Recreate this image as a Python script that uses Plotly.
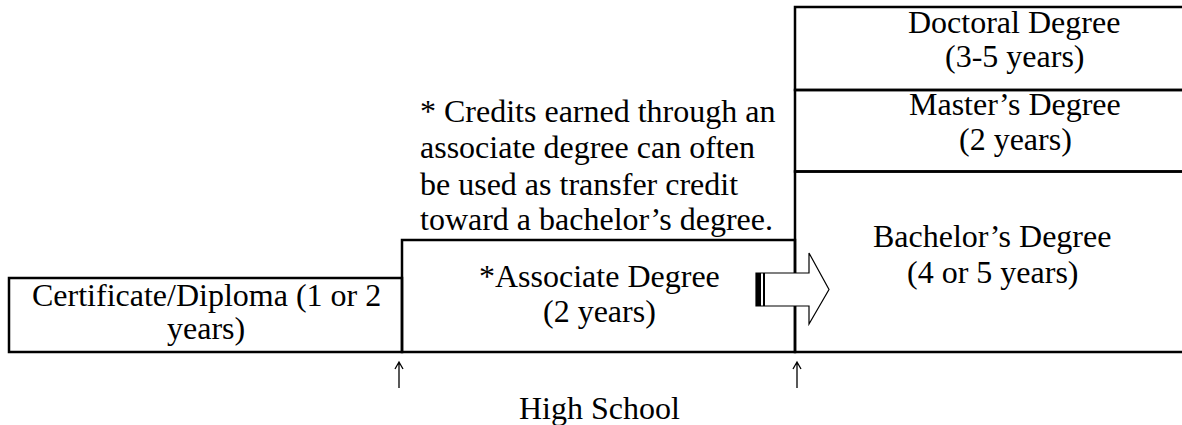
import plotly.graph_objects as go

# ---- content ----
box_labels = [
    ["Certificate/Diploma (1 or 2", "years)"],
    ["*Associate Degree", "(2 years)"],
    ["Bachelor\u2019s Degree", "(4 or 5 years)"],
    ["Master\u2019s Degree", "(2 years)"],
    ["Doctoral Degree", "(3-5 years)"],
]
note_lines = [
    "* Credits earned through an",
    "associate degree can often",
    "be used as transfer credit",
    "toward a bachelor\u2019s degree.",
]
bottom_label = "High School"

# ---- layout geometry (pixel space of the 1182x425 canvas) ----
W, H = 1182, 425
box_x0 = [9, 402, 795, 795, 795]
box_x1 = [402, 795, 1190, 1190, 1190]
box_y0 = [278, 240, 171.5, 90, 7]
box_y1 = [352, 352, 352, 171.5, 90]
label_cx = [206, 599, 992, 1015, 1014]
label_base = [[306, 339], [286.5, 321.5], [247, 283], [115, 150], [33, 67]]
note_x = 418
note_base = [121.5, 158, 195, 230]
bottom_cx, bottom_base = 599, 419
up_x = [399, 797]
up_top, up_bottom = 362, 388

FONT = "Liberation Serif, Times New Roman, serif"
FS = 32
MID = 0.3375 * FS  # baseline -> middle of text box

fig = go.Figure()
shapes = []
for x0, x1, y0, y1 in zip(box_x0, box_x1, box_y0, box_y1):
    shapes.append(dict(type="rect", x0=x0, x1=x1, y0=y0, y1=y1,
                       line=dict(color="black", width=2.5), fillcolor="rgba(0,0,0,0)",
                       layer="above"))

# striped block arrow
ax0, ax1, axt = 756, 809, 829
ay0, ay1, ah0, ah1 = 273, 306, 253, 324
aym = (ay0 + ay1) / 2
path = (f"M {ax0},{ay0} L {ax1},{ay0} L {ax1},{ah0} L {axt},{aym} L {ax1},{ah1} "
        f"L {ax1},{ay1} L {ax0},{ay1} Z")
shapes.append(dict(type="path", path=path, fillcolor="white",
                   line=dict(color="black", width=1.2), layer="above"))
for sx0, sx1 in [(756, 761), (763, 765)]:
    shapes.append(dict(type="rect", x0=sx0, x1=sx1, y0=ay0, y1=ay1,
                       fillcolor="black", line=dict(width=0), layer="above"))

# small up arrows under the box junctions
for ux in up_x:
    p = (f"M {ux},{up_bottom} L {ux},{up_top} "
         f"M {ux-4},{up_top+7} L {ux},{up_top} L {ux+4},{up_top+7}")
    shapes.append(dict(type="path", path=p, line=dict(color="black", width=1.3),
                       layer="above"))

annotations = []
for lines, cx, bases in zip(box_labels, label_cx, label_base):
    for t, b in zip(lines, bases):
        annotations.append(dict(x=cx, y=b - MID, text=t, showarrow=False,
                                xanchor="center", yanchor="middle",
                                font=dict(family=FONT, size=FS, color="black")))
for t, b in zip(note_lines, note_base):
    annotations.append(dict(x=note_x, y=b - MID, text=t, showarrow=False,
                            xanchor="left", yanchor="middle",
                            font=dict(family=FONT, size=FS, color="black")))
annotations.append(dict(x=bottom_cx, y=bottom_base - MID, text=bottom_label, showarrow=False,
                        xanchor="center", yanchor="middle",
                        font=dict(family=FONT, size=FS, color="black")))

fig.update_layout(
    width=W, height=H, margin=dict(l=0, r=0, t=0, b=0),
    paper_bgcolor="white", plot_bgcolor="white",
    xaxis=dict(range=[0, W], visible=False, fixedrange=True),
    yaxis=dict(range=[H, 0], visible=False, fixedrange=True),
    shapes=shapes, annotations=annotations, showlegend=False,
)
fig.write_html("out.html", config={"displayModeBar": False},
               post_script="document.body.style.margin='0';document.body.style.overflow='hidden';")
